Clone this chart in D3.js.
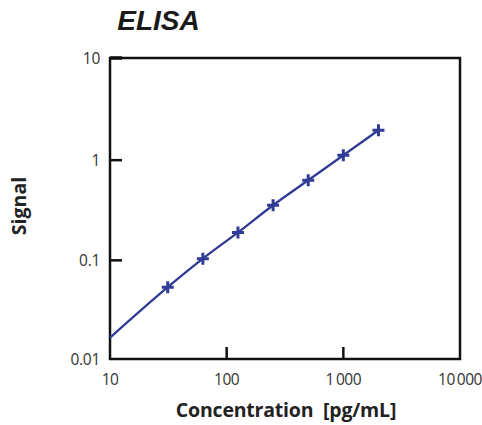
<!DOCTYPE html>
<html>
<head>
<meta charset="utf-8">
<script src="https://cdn.jsdelivr.net/npm/d3@7"></script>
<style>
  body { margin: 0; background: #fff; }
</style>
</head>
<body>
<script>
// concentration (pg/mL) and measured signal
const conc = [31.25, 62.5, 125, 250, 500, 1000, 2000];
const signal = [0.054, 0.104, 0.19, 0.355, 0.63, 1.12, 1.99];
// fitted curve
const fitX = [10, 31.25, 62.5, 125, 250, 500, 1000, 2000];
const fitY = [0.0169, 0.054, 0.104, 0.19, 0.355, 0.63, 1.12, 1.99];
const xTicks = [10, 100, 1000, 10000];
const xTickLabels = ["10", "100", "1\u2009000", "10\u2009000"];
const yTicks = [0.01, 0.1, 1, 10];
const yTickLabels = ["0.01", "0.1", "1", "10"];

const width = 482, height = 425;
const m = { left: 110, right: 460, top: 58, bottom: 359 };
const blue = "#2f3b95";

const svg = d3.select("body").append("svg")
  .attr("width", width).attr("height", height);

const x = d3.scaleLog().domain([10, 10000]).range([m.left, m.right]);
const y = d3.scaleLog().domain([0.01, 10]).range([360.5, 60]);

// frame
svg.append("rect")
  .attr("x", m.left).attr("y", m.top)
  .attr("width", m.right - m.left).attr("height", m.bottom - m.top)
  .attr("fill", "none").attr("stroke", "#111").attr("stroke-width", 2.5);

// inner ticks
svg.selectAll(".xt").data(xTicks.slice(1, -1)).enter().append("line")
  .attr("x1", d => x(d)).attr("x2", d => x(d))
  .attr("y1", m.bottom).attr("y2", m.bottom - 12)
  .attr("stroke", "#111").attr("stroke-width", 2.5);
svg.selectAll(".yt").data(yTicks.slice(1, -1)).enter().append("line")
  .attr("x1", m.left).attr("x2", m.left + 12)
  .attr("y1", d => y(d)).attr("y2", d => y(d))
  .attr("stroke", "#111").attr("stroke-width", 2.5);
svg.append("line")
  .attr("x1", m.left).attr("x2", m.left + 12)
  .attr("y1", m.top).attr("y2", m.top)
  .attr("stroke", "#111").attr("stroke-width", 3.5);

// tick labels
const tickFont = "15.5px 'Open Sans', sans-serif";
svg.selectAll(".xl").data(xTicks).enter().append("text")
  .attr("x", d => x(d)).attr("y", m.bottom + 26)
  .attr("text-anchor", "middle")
  .style("font", tickFont).style("letter-spacing", "-0.5px").attr("fill", "#333")
  .text((d, i) => xTickLabels[i]);
svg.selectAll(".yl").data(yTicks).enter().append("text")
  .attr("x", m.left - 10).attr("y", (d, i) => (i === 0 ? m.bottom : i === 3 ? m.top : y(d)) + 6)
  .attr("text-anchor", "end")
  .style("font", tickFont).style("letter-spacing", "-0.3px").attr("fill", "#333")
  .text((d, i) => yTickLabels[i]);

// fitted curve
svg.append("path")
  .datum(fitX.map((v, i) => [v, fitY[i]]))
  .attr("d", d3.line().x(d => x(d[0])).y(d => y(d[1])).curve(d3.curveMonotoneX))
  .attr("fill", "none").attr("stroke", blue).attr("stroke-width", 2.3);

// markers
const pts = conc.map((c, i) => [c, signal[i]]);
svg.selectAll(".pt").data(pts).enter().append("path")
  .attr("transform", d => `translate(${x(d[0])},${y(d[1])})`)
  .attr("d", "M-6,0H6M0,-6V6")
  .attr("stroke", blue).attr("stroke-width", 3);

// titles
svg.append("text")
  .attr("x", 158.5).attr("y", 30).attr("text-anchor", "middle")
  .style("font", "italic bold 28px 'Liberation Sans', Arial, sans-serif")
  .attr("fill", "#1a1a1a").text("ELISA");

svg.append("text")
  .attr("x", 286).attr("y", 417).attr("text-anchor", "middle")
  .style("font", "bold 19.5px 'Open Sans', sans-serif")
  .style("letter-spacing", "-0.2px")
  .attr("fill", "#222").attr("xml:space", "preserve")
  .text("Concentration  [pg/mL]");

svg.append("text")
  .attr("transform", "translate(26,206) rotate(-90)")
  .attr("text-anchor", "middle")
  .style("font", "bold 19.5px 'Open Sans', sans-serif")
  .attr("fill", "#222").text("Signal");
</script>
</body>
</html>
